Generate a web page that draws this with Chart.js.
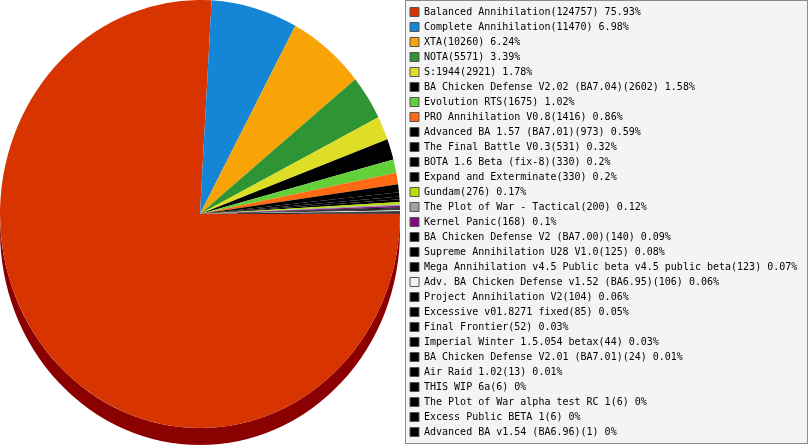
<!DOCTYPE html>
<html>
<head>
<meta charset="utf-8">
<script src="https://cdn.jsdelivr.net/npm/chart.js@4.4.1/dist/chart.umd.min.js"></script>
<style>
  html, body { margin: 0; padding: 0; background: #fff; }
  #wrap { position: relative; width: 809px; height: 445px; }
</style>
</head>
<body>
<div id="wrap"><canvas id="modchart"></canvas></div>
<script>
const mods = [
  "Balanced Annihilation", "Complete Annihilation", "XTA", "NOTA", "S:1944",
  "BA Chicken Defense V2.02 (BA7.04)", "Evolution RTS", "PRO Annihilation V0.8",
  "Advanced BA 1.57 (BA7.01)", "The Final Battle V0.3", "BOTA 1.6 Beta (fix-8)",
  "Expand and Exterminate", "Gundam", "The Plot of War - Tactical", "Kernel Panic",
  "BA Chicken Defense V2 (BA7.00)", "Supreme Annihilation U28 V1.0",
  "Mega Annihilation v4.5 Public beta v4.5 public beta",
  "Adv. BA Chicken Defense v1.52 (BA6.95)", "Project Annihilation V2",
  "Excessive v01.8271 fixed", "Final Frontier", "Imperial Winter 1.5.054 betax",
  "BA Chicken Defense V2.01 (BA7.01)", "Air Raid 1.02", "THIS WIP 6a",
  "The Plot of War alpha test RC 1", "Excess Public BETA 1", "Advanced BA v1.54 (BA6.96)"
];
const games = [
  124757, 11470, 10260, 5571, 2921, 2602, 1675, 1416, 973, 531, 330, 330, 276, 200, 168,
  140, 125, 123, 106, 104, 85, 52, 44, 24, 13, 6, 6, 6, 1
];
const colours = [
  '#d83400', '#1585d5', '#f8a306', '#2f9433', '#dede26', '#000000', '#63d03a', '#ff6a12',
  '#000000', '#000000', '#000000', '#000000', '#b8e000', '#a0a0a0', '#800d80',
  '#000000', '#000000', '#000000', '#f4f4f4', '#000000', '#000000', '#000000', '#000000',
  '#000000', '#000000', '#000000', '#000000', '#000000', '#000000'
];

const total = games.reduce((a, b) => a + b, 0);
const pct = v => Math.round(v / total * 10000) / 100;

// where the tilted pie sits on the page
const pieCentre = {x: 200, y: 214};
const pieRadius = {x: 200, y: 214};
const pieDepth = 17;
const legendWidth = 404;

Chart.defaults.font.family = "'DejaVu Sans Mono', monospace";
Chart.defaults.font.size = 10;
Chart.defaults.color = '#000';

const pie3d = {
  id: 'pie3d',
  afterInit(chart) {
    const legend = chart.legend;
    const fit = legend.fit;
    legend.fit = function () {
      fit.call(this);
      this.width = Math.max(this.width, legendWidth);
    };
  },
  beforeDraw(chart) {
    const lg = chart.legend, ctx = chart.ctx;
    ctx.save();
    ctx.fillStyle = '#f4f4f4';
    ctx.fillRect(lg.left, 0, lg.width - 1, 444);
    ctx.strokeStyle = '#8c8c8c';
    ctx.lineWidth = 1;
    ctx.strokeRect(lg.left + 0.5, 0.5, lg.width - 2, 443);
    ctx.restore();
  },
  beforeDatasetsDraw(chart) {
    const arc = chart.getDatasetMeta(0).data[0];
    const x = arc.x, y = arc.y, r = arc.outerRadius;
    const ctx = chart.ctx;
    ctx.save();
    ctx.translate(pieCentre.x, pieCentre.y);
    ctx.scale(pieRadius.x / r, pieRadius.y / r);
    ctx.translate(-x, -y);
    const d = pieDepth * r / pieRadius.y;
    ctx.fillStyle = '#8b0000';
    ctx.beginPath();
    ctx.arc(x, y + d, r, 0, Math.PI);
    ctx.lineTo(x - r, y);
    ctx.arc(x, y, r, Math.PI, 0, true);
    ctx.closePath();
    ctx.fill();
  },
  afterDatasetsDraw(chart) {
    chart.ctx.restore();
  }
};

new Chart(document.getElementById('modchart'), {
  type: 'pie',
  data: {
    labels: mods,
    datasets: [{
      data: games,
      backgroundColor: colours,
      borderWidth: 0,
      clip: false
    }]
  },
  options: {
    responsive: true,
    maintainAspectRatio: false,
    animation: false,
    events: [],
    rotation: 90,
    layout: { padding: { top: 2 } },
    plugins: {
      tooltip: { enabled: false },
      legend: {
        position: 'right',
        align: 'start',
        labels: {
          boxWidth: 9,
          boxHeight: 9,
          padding: 5,
          color: '#000',
          generateLabels(chart) {
            const ds = chart.data.datasets[0];
            return chart.data.labels.map((name, i) => ({
              text: name + '(' + ds.data[i] + ') ' + pct(ds.data[i]) + '%',
              fillStyle: ds.backgroundColor[i],
              strokeStyle: '#555',
              lineWidth: 1,
              fontColor: '#000',
              hidden: false,
              index: i
            }));
          }
        }
      }
    }
  },
  plugins: [pie3d]
});
</script>
</body>
</html>
